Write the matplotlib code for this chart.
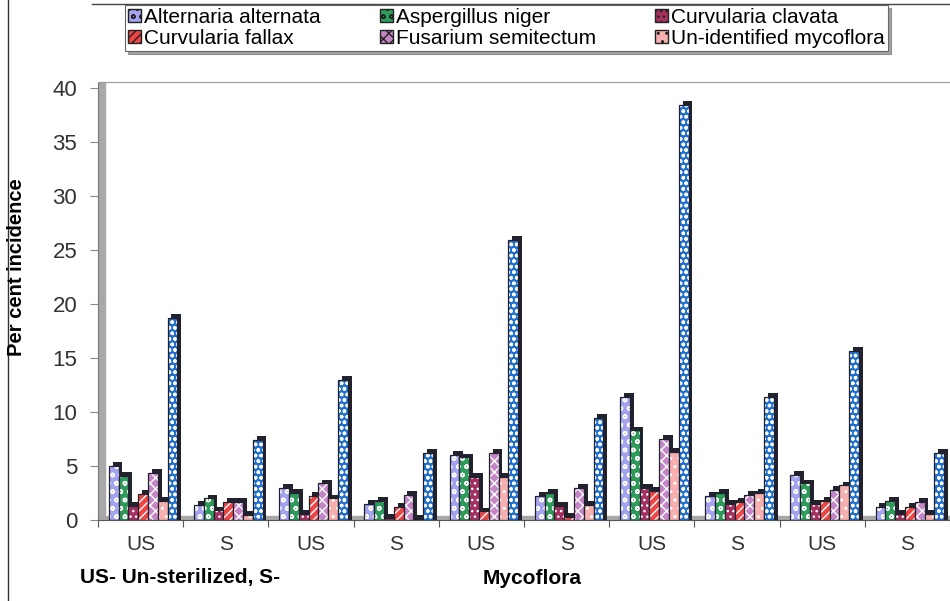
import matplotlib
matplotlib.use("Agg")
import matplotlib.pyplot as plt
from matplotlib.patches import Patch, Rectangle
from matplotlib.lines import Line2D
import numpy as np

# groups along the x axis (US = un-sterilized, S = sterilized)
groups = ["US", "S", "US", "S", "US", "S", "US", "S", "US", "S"]

# per cent incidence of each fungus
alternaria = [5.0, 1.4, 3.0, 1.5, 6.0, 2.2, 11.4, 2.2, 4.2, 1.2]
aspergillus = [4.1, 2.0, 2.5, 1.8, 5.8, 2.5, 8.3, 2.5, 3.4, 1.8]
c_clavata = [1.3, 0.9, 0.6, 0.2, 4.0, 1.3, 3.0, 1.5, 1.5, 0.6]
c_fallax = [2.4, 1.7, 2.2, 1.2, 0.8, 0.3, 2.7, 1.7, 1.8, 1.2]
fusarium = [4.4, 1.7, 3.4, 2.3, 6.2, 3.0, 7.5, 2.3, 2.8, 1.7]
unidentified = [1.8, 0.5, 2.0, 0.1, 4.0, 1.4, 6.3, 2.5, 3.2, 0.6]
total = [18.7, 7.4, 13.0, 6.2, 26.0, 9.5, 38.5, 11.4, 15.7, 6.2]

series = [
    ("Alternaria alternata", alternaria, "#a3a3f0", "oo"),
    ("Aspergillus niger", aspergillus, "#2e9b5a", "oo"),
    ("Curvularia clavata", c_clavata, "#a3305f", "..."),
    ("Curvularia fallax", c_fallax, "#f04545", "////"),
    ("Fusarium semitectum", fusarium, "#c586c8", "xxx"),
    ("Un-identified mycoflora", unidentified, "#f7b0b0", ".."),
    ("Total", total, "#2070d0", "ooo"),
]

plt.rcParams["font.family"] = ["Liberation Sans", "DejaVu Sans"]
plt.rcParams["hatch.linewidth"] = 1.0

fig = plt.figure(figsize=(9.5, 6.01), dpi=100)
ax = fig.add_axes([98 / 950, 1 - 520 / 601, 852 / 950, (520 - 82) / 601])

x = np.arange(len(groups))
w = 0.115
dx, dy = 0.045, 0.35

# grey floor and side wall of the 3D look
ax.axhspan(0, 0.35, color="#a8a8a8", zorder=0)
ax.add_patch(Rectangle((-0.5, 0), 0.08, 40.6, color="#a8a8a8", zorder=0))

for j, (name, vals, col, hatch) in enumerate(series):
    pos = x + (j - 3) * w + 0.03
    vals = np.array(vals)
    # dark depth face
    ax.bar(pos + dx, vals + dy, w, color="#22222e", zorder=2 + j * 0.1)
    # hatched front face
    ax.bar(pos, vals, w, color=col, edgecolor="white", hatch=hatch,
           linewidth=0, zorder=2.02 + j * 0.1)
    ax.bar(pos, vals, w, fill=False, edgecolor="#22222e", linewidth=0.9,
           zorder=2.05 + j * 0.1)

ax.set_xlim(-0.5, 9.5)
ax.set_ylim(0, 40.6)
ax.set_yticks(range(0, 41, 5))
ax.set_xticks(np.arange(-0.5, 10, 1))
ax.set_xticklabels([])
ax.set_xticks(x, minor=True)
ax.set_xticklabels(groups, minor=True)
ax.tick_params(axis="x", which="minor", length=0, pad=11, labelsize=15,
               labelcolor="#333333")
ax.tick_params(axis="x", which="major", length=5, direction="out",
               color="#555555")
ax.tick_params(axis="y", length=6, color="#888888", labelsize=16,
               labelcolor="#333333", pad=9)

ax.spines["right"].set_visible(False)
ax.spines["top"].set_color("#999999")
ax.spines["left"].set_color("#777777")
ax.spines["bottom"].set_color("#555555")

fig.text(17 / 950, 1 - 267 / 601, "Per cent incidence", rotation=90,
         ha="center", va="center", fontsize=14.5, fontweight="bold")
fig.text(80 / 950, 1 - 578 / 601, "US- Un-sterilized, S-", ha="left",
         va="center", fontsize=15, fontweight="bold")
fig.text(532 / 950, 1 - 578 / 601, "Mycoflora", ha="center",
         va="center", fontsize=15, fontweight="bold")

# legend only lists the six fungi, filled row-wise
handles = [Patch(facecolor=c, edgecolor="#222222", hatch=h, label=n)
           for n, v, c, h in series[:6]]
order = [0, 3, 1, 4, 2, 5]
leg = fig.legend([handles[i] for i in order],
                 [handles[i].get_label() for i in order],
                 ncol=3, loc="upper left", mode="expand",
                 bbox_to_anchor=(125 / 950, 1 - 56 / 601, 763 / 950, 51 / 601),
                 fontsize=15, handlelength=0.6, handleheight=0.6,
                 handletextpad=0.15, borderpad=0.15, labelspacing=0.1,
                 fancybox=False, edgecolor="#666666", shadow=True,
                 columnspacing=0.8, borderaxespad=0)
leg.get_frame().set_linewidth(0.8)

# outer picture border lines
fig.add_artist(Line2D([8 / 950, 8 / 950], [0, 1], color="#333333", lw=1))
fig.add_artist(Line2D([92 / 950, 1], [1 - 4 / 601, 1 - 4 / 601],
                      color="#444444", lw=1))

fig.savefig("out.png", dpi=100)
